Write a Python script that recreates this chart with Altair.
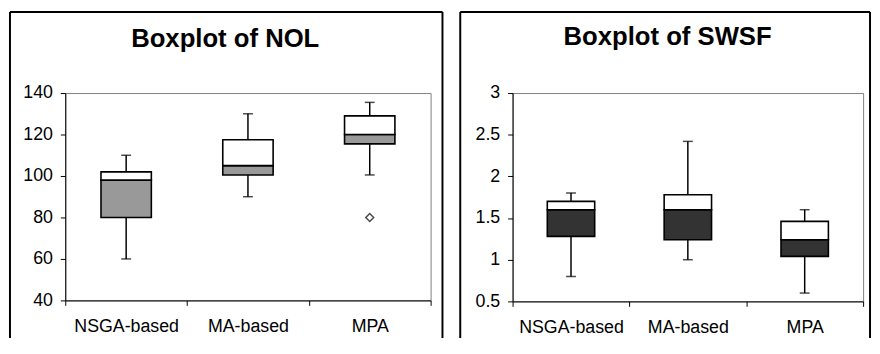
import altair as alt
import pandas as pd

FONT = "Liberation Sans"

cats = ["NSGA-based", "MA-based", "MPA"]

# Boxplot of NOL
nol_lo = [60, 90, 100.5]
nol_q1 = [80, 100.5, 115.5]
nol_med = [98, 105, 120]
nol_q3 = [102, 117.5, 129]
nol_hi = [110, 130, 135.5]
nol_out_cat = ["MPA"]
nol_out_val = [80]
nol_ticks = [40, 60, 80, 100, 120, 140]

# Boxplot of SWSF
swsf_lo = [0.8, 1.0, 0.6]
swsf_q1 = [1.28, 1.24, 1.04]
swsf_med = [1.6, 1.6, 1.24]
swsf_q3 = [1.7, 1.78, 1.46]
swsf_hi = [1.8, 2.42, 1.6]
swsf_ticks = [0.5, 1, 1.5, 2, 2.5, 3]


def panel(title, lo, q1, med, q3, hi, ticks, fmt, fill, w, h, box_w, frame, title_pos,
          out_cat=None, out_val=None):
    df = pd.DataFrame({"cat": cats, "lo": lo, "q1": q1, "med": med, "q3": q3, "hi": hi})
    base = alt.Chart(df)
    x = alt.X("cat:N", sort=cats,
              scale=alt.Scale(paddingInner=0, paddingOuter=0),
              axis=alt.Axis(title=None, labelAngle=0, tickBand="extent", tickSize=5,
                            labelPadding=13, labelFontSize=18, labelFont=FONT,
                            labelColor="black", domainColor="black", tickColor="black",
                            domainWidth=1, tickWidth=1))
    yscale = alt.Scale(domain=[ticks[0], ticks[-1]], nice=False, zero=False)
    yaxis = alt.Axis(title=None, values=ticks, grid=False, tickSize=5, labelPadding=8,
                     labelFontSize=18, labelFont=FONT, labelColor="black",
                     domainColor="black", tickColor="black", domainWidth=1, tickWidth=1,
                     format=fmt)

    def Y(f):
        return alt.Y(f + ":Q", scale=yscale, axis=yaxis)

    whisk_lo = base.mark_rule(color="black", strokeWidth=1.5).encode(x=x, y=Y("lo"), y2="q1:Q")
    whisk_hi = base.mark_rule(color="black", strokeWidth=1.5).encode(x=x, y=Y("q3"), y2="hi:Q")
    box_lo = base.mark_bar(width=box_w, fill=fill, stroke="black", strokeWidth=1.6).encode(
        x=x, y=Y("q1"), y2="med:Q")
    box_hi = base.mark_bar(width=box_w, fill="white", stroke="black", strokeWidth=1.6).encode(
        x=x, y=Y("med"), y2="q3:Q")
    cap_lo = base.mark_tick(color="black", size=10, thickness=1.5).encode(x=x, y=Y("lo"))
    cap_hi = base.mark_tick(color="black", size=10, thickness=1.5).encode(x=x, y=Y("hi"))

    layers = [whisk_lo, whisk_hi, box_lo, box_hi, cap_lo, cap_hi]

    if out_cat:
        odf = pd.DataFrame({"cat": out_cat, "v": out_val})
        layers.append(alt.Chart(odf).mark_point(shape="diamond", filled=False, color="black",
                                                 size=64, strokeWidth=1.5).encode(x=x, y=Y("v")))

    one = pd.DataFrame({"t": [title]})
    L, R, T, B = frame
    fr = alt.Chart(one)
    layers += [
        fr.mark_rule(color="black", strokeWidth=2).encode(x=alt.value(L), y=alt.value(T), y2=alt.value(B)),
        fr.mark_rule(color="black", strokeWidth=2).encode(x=alt.value(R), y=alt.value(T), y2=alt.value(B)),
        fr.mark_rule(color="black", strokeWidth=2).encode(x=alt.value(L), x2=alt.value(R), y=alt.value(T)),
        fr.mark_text(font=FONT, fontSize=26, fontWeight="bold", color="black", align="center",
                     baseline="alphabetic").encode(text="t:N", x=alt.value(title_pos[0]),
                                                   y=alt.value(title_pos[1])),
    ]
    return alt.layer(*layers).properties(width=w, height=h)


left = panel("Boxplot of NOL", nol_lo, nol_q1, nol_med, nol_q3, nol_hi, nol_ticks, "d", "#999999",
             370, 210, 51, (-56, 382, -82, 248), (162, -47), nol_out_cat, nol_out_val)
right = panel("Boxplot of SWSF", swsf_lo, swsf_q1, swsf_med, swsf_q3, swsf_hi, swsf_ticks, "~g", "#333333",
              355, 211, 48, (-53, 362, -82, 248), (157, -49))

chart = alt.hconcat(left, right, spacing=14).properties(
    padding=0, background="white"
).configure_view(stroke="#808080", strokeWidth=1)

chart.save("out.html", embed_options={"renderer": "svg", "actions": False})
